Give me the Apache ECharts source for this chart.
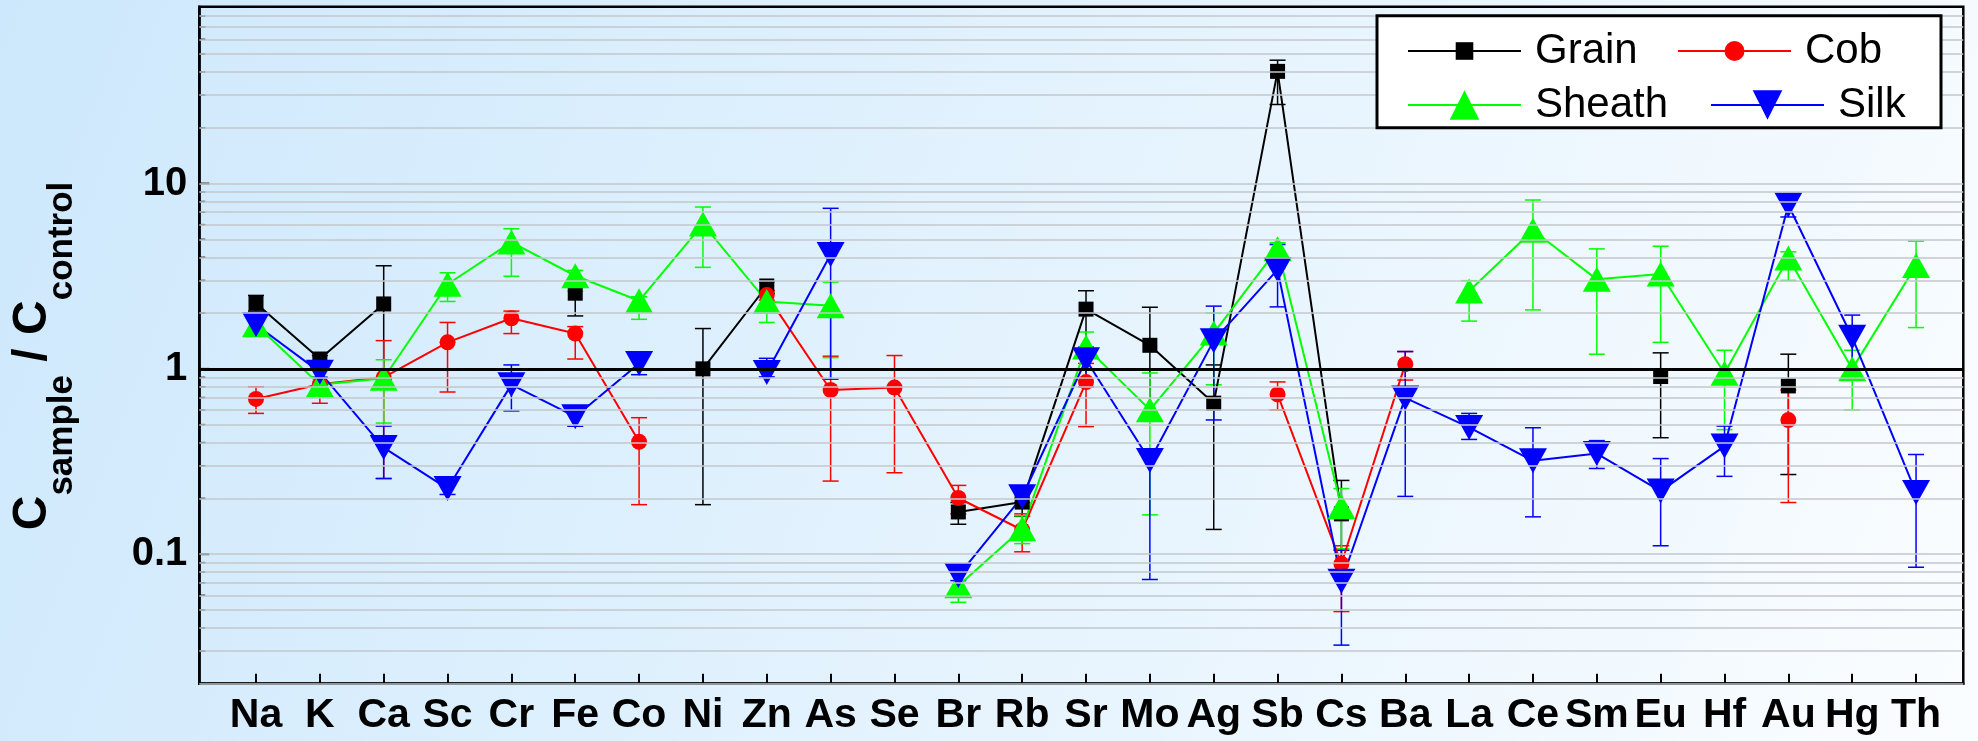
<!DOCTYPE html>
<html>
<head>
<meta charset="utf-8">
<script src="https://cdn.jsdelivr.net/npm/echarts@6/dist/echarts.min.js"></script>
<style>
  html, body { margin: 0; padding: 0; width: 1978px; height: 741px; overflow: hidden; }
  #chart { width: 1978px; height: 741px; }
</style>
</head>
<body>
<div id="chart"></div>
<script>
// Element categories along the x axis
const elements = ['Na','K','Ca','Sc','Cr','Fe','Co','Ni','Zn','As','Se','Br','Rb','Sr','Mo','Ag','Sb','Cs','Ba','La','Ce','Sm','Eu','Hf','Au','Hg','Th'];

// Ratio C_sample / C_control per element (null = not measured), with error-bar bounds
const grainValue = [2.26, 1.13, 2.24, null, null, 2.56, null, 1.0, 2.8, null, null, 0.169, 0.191, 2.1, 1.34, 0.653, 40.3, 0.165, null, null, null, null, 0.909, null, 0.809, null, null];
const grainLow   = [2.05, 1.08, 0.88, null, null, 1.93, null, 0.185, 2.55, null, null, 0.145, 0.16, 1.17, 0.53, 0.136, 26.7, 0.077, null, null, null, null, 0.425, null, 0.269, null, null];
const grainHigh  = [2.49, 1.18, 3.6, null, null, 2.84, null, 1.65, 2.95, null, null, 0.19, 0.2, 2.64, 2.15, 1.05, 46.3, 0.25, null, null, null, null, 1.22, null, 1.2, null, null];

const cobValue = [0.688, 0.826, 0.9, 1.39, 1.875, 1.55, 0.404, null, 2.5, 0.769, 0.792, 0.201, 0.135, 0.848, null, null, 0.728, 0.0887, 1.06, null, null, null, null, null, 0.529, null, null];
const cobLow   = [0.575, 0.652, 0.256, 0.75, 1.55, 1.13, 0.185, null, 2.35, 0.248, 0.275, 0.165, 0.103, 0.488, null, null, 0.6, 0.049, 0.87, null, null, null, null, null, 0.19, null, null];
const cobHigh  = [0.8, 1.0, 1.42, 1.78, 2.05, 1.69, 0.545, null, 2.65, 1.17, 1.18, 0.235, 0.165, 1.07, null, null, 0.85, 0.111, 1.24, null, null, null, null, null, 0.77, null, null];

const sheathValue = [1.73, 0.82, 0.89, 2.86, 4.83, 3.18, 2.33, 6.04, 2.31, 2.19, null, 0.0676, 0.137, 1.31, 0.601, 1.56, 4.45, 0.18, null, 2.63, 5.6, 3.04, 3.25, 0.947, 3.97, 1.0, 3.61];
const sheathLow   = [1.55, 0.74, 0.51, 2.31, 3.16, 2.62, 1.85, 3.53, 1.78, 1.15, null, 0.055, 0.114, 0.867, 0.163, 0.82, 3.49, 0.107, null, 1.81, 2.08, 1.2, 1.39, 0.47, 3.0, 0.6, 1.67];
const sheathHigh  = [1.9, 0.9, 1.12, 3.3, 5.7, 3.4, 2.45, 7.47, 2.6, 2.94, null, 0.082, 0.161, 1.58, 0.95, 2.0, 4.79, 0.226, null, 2.99, 8.15, 4.44, 4.59, 1.26, 4.28, 1.26, 4.89];

const silkValue = [1.73, 0.96, 0.376, 0.226, 0.822, 0.552, 1.07, null, 0.955, 4.14, null, 0.0766, 0.204, 1.12, 0.32, 1.42, 3.43, 0.0714, 0.697, 0.483, 0.319, 0.349, 0.219, 0.383, 7.66, 1.48, 0.215];
const silkLow   = [1.6, 0.9, 0.256, 0.21, 0.593, 0.49, 0.93, null, 0.905, 0.88, null, 0.072, 0.19, 0.80, 0.073, 0.53, 2.16, 0.0323, 0.205, 0.416, 0.159, 0.29, 0.111, 0.263, 6.6, 1.0, 0.085];
const silkHigh  = [1.85, 1.02, 0.491, 0.245, 1.05, 0.62, 1.17, null, 1.14, 7.35, null, 0.082, 0.22, 1.31, 0.37, 2.18, 4.69, 0.105, 1.24, 0.575, 0.481, 0.41, 0.328, 0.491, 8.1, 1.95, 0.345];

// Log-axis ticks and labels
const majorTicks = [0.1, 1, 10];
const tickLabels = ['0.1', '1', '10'];
const minorTicks = [0.02, 0.03, 0.04, 0.05, 0.06, 0.07, 0.08, 0.09,
                    0.2, 0.3, 0.4, 0.5, 0.6, 0.7, 0.8, 0.9,
                    2, 3, 4, 5, 6, 7, 8, 9,
                    20, 30, 40, 50, 60, 70, 80];
const referenceLevel = 1;

const FONT = "'Liberation Sans', Arial, sans-serif";
const X_MIN = -0.888, X_MAX = 26.74;
const catIndex = elements.map((_, i) => i);

function lineSeries(name, values, color, symbol, size, rotate) {
  return {
    type: 'line', name: name,
    data: values.map((v, i) => [i, v == null ? '-' : v]),
    connectNulls: false,
    symbol: symbol, symbolSize: size, symbolRotate: rotate || 0,
    lineStyle: { color: color, width: 2 },
    itemStyle: { color: color },
    z: 2, silent: true
  };
}

function errorSeries(name, values, low, high, color) {
  const data = [];
  values.forEach((v, i) => { if (v != null) data.push([i, low[i], high[i]]); });
  return {
    type: 'custom', name: name + ' error bars', data: data,
    encode: { x: 0, y: [1, 2] }, z: 2, silent: true,
    renderItem: function (params, api) {
      const x = api.value(0);
      const top = api.coord([x, api.value(2)]);
      const bot = api.coord([x, api.value(1)]);
      const hw = 8;
      const st = { stroke: color, lineWidth: 1.5 };
      return { type: 'group', children: [
        { type: 'line', shape: { x1: top[0], y1: top[1], x2: bot[0], y2: bot[1] }, style: st },
        { type: 'line', shape: { x1: top[0] - hw, y1: top[1], x2: top[0] + hw, y2: top[1] }, style: st },
        { type: 'line', shape: { x1: bot[0] - hw, y1: bot[1], x2: bot[0] + hw, y2: bot[1] }, style: st }
      ]};
    }
  };
}

function labelFor(v) {
  for (let k = 0; k < majorTicks.length; k++) {
    if (Math.abs(Math.log10(v) - Math.log10(majorTicks[k])) < 1e-6) return tickLabels[k];
  }
  return '';
}

const gridLines = majorTicks.concat(minorTicks).filter(v => v !== referenceLevel);

const legendCommon = {
  padding: 0, selectedMode: false, z: 12,
  itemWidth: 113,
  textStyle: { fontSize: 42, color: '#000', fontFamily: FONT, padding: [0, 0, 0, 9] }
};

const chart = echarts.init(document.getElementById('chart'), null, { renderer: 'canvas' });
chart.setOption({
  animation: false,
  backgroundColor: new echarts.graphic.LinearGradient(0, 0, 1, 1, [
    { offset: 0, color: '#cde8fc' },
    { offset: 1, color: '#fafdff' }
  ]),
  grid: { left: 199.3, top: 6.7, width: 1764, height: 677, show: true, borderColor: '#000', borderWidth: 2.5, backgroundColor: 'transparent' },
  xAxis: {
    type: 'value', min: X_MIN, max: X_MAX,
    axisLine: { show: true, onZero: false, lineStyle: { color: '#000', width: 2.5 } },
    splitLine: { show: false },
    axisTick: { show: true, inside: true, length: 10, lineStyle: { color: '#000', width: 2 }, customValues: catIndex },
    axisLabel: { customValues: catIndex, formatter: v => elements[Math.round(v)], fontSize: 41, fontWeight: 'bold', color: '#000', fontFamily: FONT, margin: 11 }
  },
  yAxis: {
    type: 'log', logBase: 10, min: 0.02, max: 90,
    axisLine: { show: true, onZero: false, lineStyle: { color: '#000', width: 2.5 } },
    axisTick: { show: false },
    splitLine: { show: false },
    axisLabel: { formatter: labelFor, fontSize: 40, fontWeight: 'bold', color: '#000', fontFamily: FONT, margin: 12 }
  },
  legend: [
    Object.assign({}, legendCommon, { data: ['Grain'], left: 1407, top: 30, itemHeight: 22 }),
    Object.assign({}, legendCommon, { data: ['Cob'], left: 1677, top: 30, itemHeight: 25 }),
    Object.assign({}, legendCommon, { data: ['Sheath'], left: 1407, top: 84, itemHeight: 37 }),
    Object.assign({}, legendCommon, { data: ['Silk'], left: 1710, top: 84, itemHeight: 37 })
  ],
  graphic: [
    { type: 'rect', z: 10, shape: { x: 1377, y: 15.7, width: 564, height: 112 },
      style: { fill: '#fff', stroke: '#000', lineWidth: 3 } },
    { type: 'text', z: 10, x: 44.5, y: 356, rotation: Math.PI / 2,
      style: {
        text: '{c|C}{s|sample}{c| / C}{s|control}',
        align: 'center', verticalAlign: 'middle',
        rich: {
          c: { fontSize: 48, fontWeight: 'bold', fontFamily: FONT, fill: '#000', verticalAlign: 'bottom', padding: [0, 0, 23, 0] },
          s: { fontSize: 35, fontWeight: 'bold', fontFamily: FONT, fill: '#000', verticalAlign: 'bottom' }
        }
      } }
  ],
  series: [
    {
      type: 'scatter', name: 'minor ticks', silent: true, z: 1, clip: false,
      data: minorTicks.map(v => [X_MIN, v]),
      symbol: 'rect', symbolSize: [6, 1.5], symbolOffset: [3, 0],
      itemStyle: { color: '#000' },
      markLine: {
        silent: true, symbol: ['none', 'none'], label: { show: false },
        lineStyle: { color: '#c3c7cb', width: 1.5, type: 'solid' },
        data: gridLines.map(v => ({ yAxis: v })).concat([
          { yAxis: referenceLevel, lineStyle: { color: '#000', width: 3, type: 'solid' } }
        ])
      }
    },
    {
      type: 'scatter', name: 'major ticks', silent: true, z: 1, clip: false,
      data: majorTicks.map(v => [X_MIN, v]),
      symbol: 'rect', symbolSize: [10, 2], symbolOffset: [5, 0],
      itemStyle: { color: '#000' }
    },
    errorSeries('Grain', grainValue, grainLow, grainHigh, '#000000'),
    lineSeries('Grain', grainValue, '#000000', 'rect', 15),
    errorSeries('Cob', cobValue, cobLow, cobHigh, '#ff0000'),
    lineSeries('Cob', cobValue, '#ff0000', 'circle', 16),
    errorSeries('Sheath', sheathValue, sheathLow, sheathHigh, '#00ff00'),
    lineSeries('Sheath', sheathValue, '#00ff00', 'triangle', [28, 25]),
    errorSeries('Silk', silkValue, silkLow, silkHigh, '#0000ff'),
    lineSeries('Silk', silkValue, '#0000ff', 'triangle', [28, 25], 180)
  ]
});
</script>
</body>
</html>
